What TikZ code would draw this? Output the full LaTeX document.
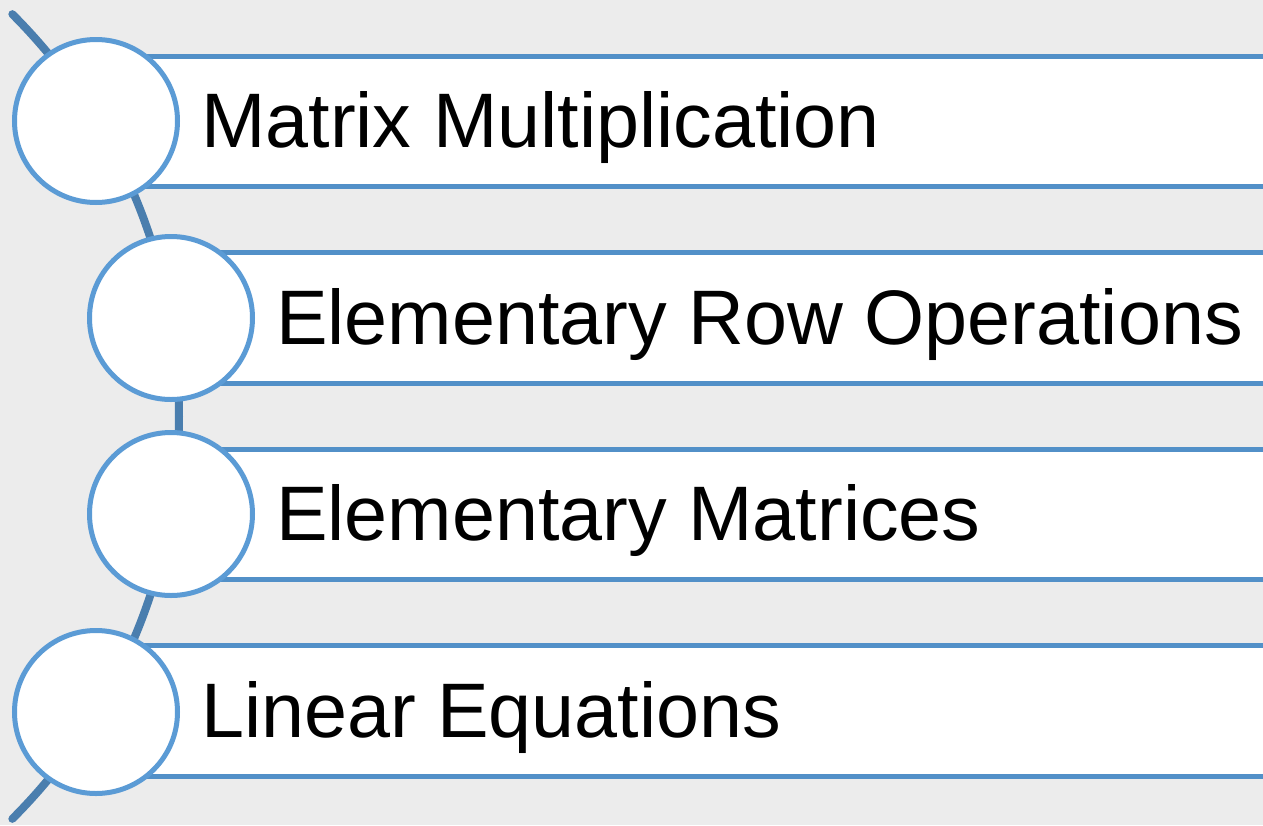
\documentclass[tikz,border=0pt]{standalone}
\usepackage{fontspec}
\setmainfont{Liberation Sans}
\definecolor{bgc}{HTML}{ECECEC}
\definecolor{circc}{HTML}{5B9BD5}
\definecolor{barc}{HTML}{5290C8}
\definecolor{arcc}{HTML}{4A7EAE}
\begin{document}
\begin{tikzpicture}[x=1pt,y=-1pt,
  circ/.style={circle,draw=circc,fill=white,line width=5pt,minimum size=163pt,inner sep=0pt},
  bar/.style={rectangle,draw=barc,fill=white,line width=5pt,minimum width=1400pt,minimum height=130.5pt,anchor=west,inner sep=0pt},
  lbl/.style={anchor=base west,inner sep=0pt,font=\fontsize{77.3}{93}\selectfont,text=black}]
\useasboundingbox (0,0) rectangle (1263,825);
\clip (0,0) rectangle (1263,825);
\fill[bgc] (0,0) rectangle (1263,825);
\coordinate (ac) at (-390,416.5);
\draw[arcc,line width=8pt,line cap=round] (ac) ++(-45:569) arc[start angle=-45,end angle=45,radius=569];
\node[bar] (b1) at (96,121.3) {};
\node[bar] (b2) at (171,318) {};
\node[bar] (b3) at (171,514.5) {};
\node[bar] (b4) at (96,711) {};
\node[circ] (c1) at (96,121) {};
\node[circ] (c2) at (171,318) {};
\node[circ] (c3) at (171,514) {};
\node[circ] (c4) at (96,712) {};
\node[lbl] (t1) at (201,147) {Matrix Multiplication};
\node[lbl] (t2) at (276,344) {Elementary Row Operations};
\node[lbl] (t3) at (276,540) {Elementary Matrices};
\node[lbl] (t4) at (201,737) {Linear Equations};
\end{tikzpicture}
\end{document}
